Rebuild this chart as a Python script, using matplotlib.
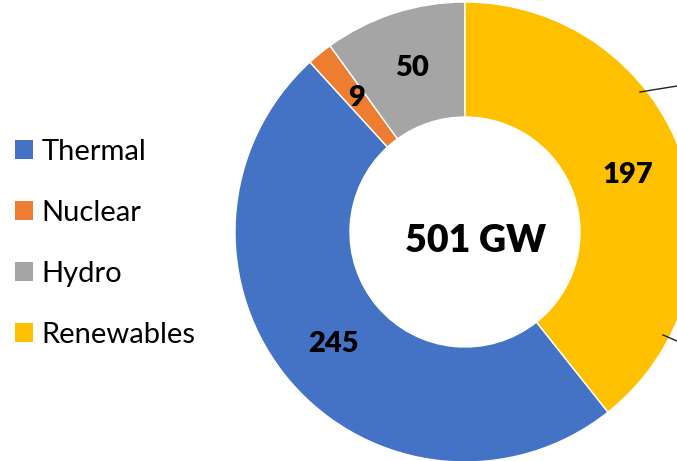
import matplotlib.pyplot as plt
from matplotlib.patches import Patch

# installed capacity by source (GW)
sources = ['Thermal', 'Nuclear', 'Hydro', 'Renewables']
capacity = [245, 9, 50, 197]
colors = ['#4472C4', '#ED7D31', '#A5A5A5', '#FFC000']

plt.rcParams['font.family'] = ['Lato', 'DejaVu Sans']

total = sum(capacity)

fig = plt.figure(figsize=(6.77, 4.61), dpi=100)
ax = fig.add_axes([0, 0, 1, 1])

# renewables ends at 12 o'clock, the rest follow clockwise
start = 90 - 360 * capacity[-1] / total
wedges, _, autotexts = ax.pie(
    capacity,
    colors=colors,
    center=(465, 229),
    radius=230,
    startangle=start,
    counterclock=False,
    autopct=lambda p: '%d' % round(p * total / 100),
    pctdistance=0.75,
    wedgeprops=dict(width=115, edgecolor='white', linewidth=1),
    textprops=dict(fontsize=21, fontweight='heavy', color='black'),
    frame=True,
)
ax.set_xlim(0, 677)
ax.set_ylim(0, 461)
ax.set_aspect('equal')
ax.axis('off')

ax.text(476, 220, '%d GW' % total, ha='center', va='center',
        fontsize=27, fontweight='heavy')

# leader lines going off the right edge
ax.plot([640, 677], [369, 375], color='#222222', lw=1)
ax.plot([663, 677], [126, 120], color='#222222', lw=1)

handles = [Patch(facecolor=c, edgecolor='none') for c in colors]
fig.legend(handles, sources, loc='center left',
           bbox_to_anchor=(0.022, 0.5 + (461 / 2 - 243.5) / 461),
           frameon=False, fontsize=21, handlelength=0.62, handleheight=0.62,
           handletextpad=0.28, labelspacing=1.2, borderaxespad=0,
           borderpad=0)

fig.savefig('out.png', dpi=100)
